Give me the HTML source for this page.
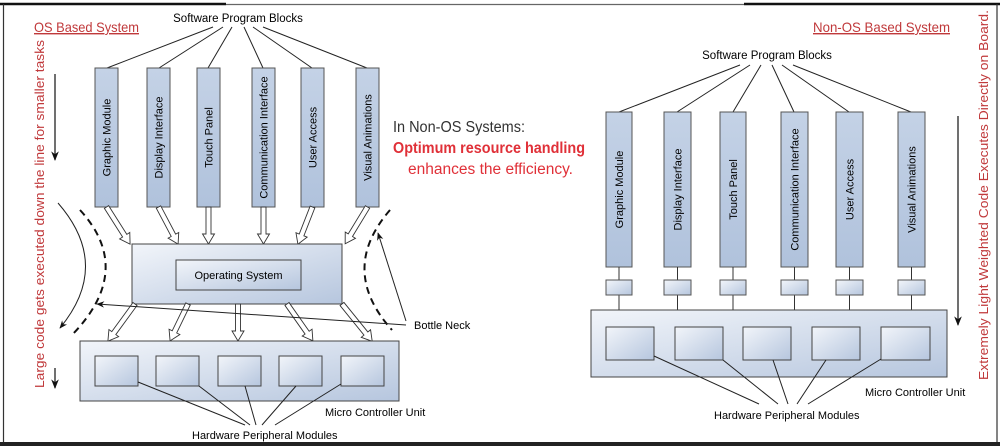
<!DOCTYPE html>
<html><head><meta charset="utf-8"><style>
html,body{margin:0;padding:0;background:#fff}
svg{display:block}
text{font-family:"Liberation Sans",sans-serif}
.c{font-family:"Liberation Sans",sans-serif}
</style></head><body>
<svg width="1000" height="446" viewBox="0 0 1000 446" xmlns="http://www.w3.org/2000/svg">
<defs>
<linearGradient id="g" x1="0" y1="0" x2="1" y2="1"><stop offset="0" stop-color="#f2f5fa"/><stop offset="1" stop-color="#b6c6de"/></linearGradient>
<linearGradient id="gv" x1="0" y1="0" x2="0" y2="1"><stop offset="0" stop-color="#c4d2e6"/><stop offset="1" stop-color="#b0c2dc"/></linearGradient>
<marker id="ah" viewBox="0 0 10 10" refX="9" refY="5" markerWidth="8" markerHeight="8" orient="auto"><path d="M0,1 L10,5 L0,9 L3,5 Z" fill="#111"/></marker>
</defs>
<line x1="0" y1="4" x2="226" y2="4" stroke="#111" stroke-width="2.5"/>
<line x1="226" y1="4.5" x2="744" y2="4.5" stroke="#666" stroke-width="1.2"/>
<line x1="744" y1="4" x2="1000" y2="4" stroke="#111" stroke-width="2.5"/>
<line x1="3.5" y1="4" x2="3.5" y2="446" stroke="#333" stroke-width="1.2"/>
<line x1="997" y1="4" x2="997" y2="446" stroke="#333" stroke-width="1.2"/>
<line x1="0" y1="444" x2="1000" y2="444" stroke="#222" stroke-width="4"/>

<text x="34" y="32" font-size="14" fill="#c0393b" text-decoration="underline" textLength="105" lengthAdjust="spacingAndGlyphs">OS Based System</text>
<text x="238" y="22" font-size="11.5" text-anchor="middle">Software Program Blocks</text>
<g stroke="#222" stroke-width="1">
<line x1="213" y1="27" x2="107" y2="68"/><line x1="223" y1="27" x2="159" y2="68"/><line x1="232" y1="27" x2="208" y2="68"/>
<line x1="244" y1="27" x2="263" y2="68"/><line x1="253" y1="27" x2="312" y2="68"/><line x1="263" y1="27" x2="367" y2="68"/>
</g>
<g fill="url(#gv)" stroke="#555" stroke-width="1">
<rect x="95" y="68" width="23" height="139"/><rect x="147" y="68" width="23" height="139"/><rect x="197" y="68" width="23" height="139"/>
<rect x="252" y="68" width="23" height="139"/><rect x="301" y="68" width="23" height="139"/><rect x="356" y="68" width="23" height="139"/>
</g>
<g font-size="11" text-anchor="middle">
<text transform="translate(110.5,137.5) rotate(-90)">Graphic Module</text>
<text transform="translate(162.5,137.5) rotate(-90)">Display Interface</text>
<text transform="translate(212.5,137.5) rotate(-90)">Touch Panel</text>
<text transform="translate(267.5,137.5) rotate(-90)">Communication Interface</text>
<text transform="translate(316.5,137.5) rotate(-90)">User Access</text>
<text transform="translate(371.5,137.5) rotate(-90)">Visual Animations</text>
</g>
<g fill="#fff" stroke="#333" stroke-width="0.9">
<path transform="translate(106.5,207) rotate(-32.4)" d="M-2.5,0 L-2.5,34 L-6,34 L0,44 L6,34 L2.5,34 L2.5,0 Z"/>
<path transform="translate(158.5,207) rotate(-27.8)" d="M-2.5,0 L-2.5,32 L-6,32 L0,42 L6,32 L2.5,32 L2.5,0 Z"/>
<path transform="translate(208.5,207)" d="M-2.5,0 L-2.5,27 L-6,27 L0,37 L6,27 L2.5,27 L2.5,0 Z"/>
<path transform="translate(263.5,207)" d="M-2.5,0 L-2.5,27 L-6,27 L0,37 L6,27 L2.5,27 L2.5,0 Z"/>
<path transform="translate(312.5,207) rotate(21.4)" d="M-2.5,0 L-2.5,30 L-6,30 L0,40 L6,30 L2.5,30 L2.5,0 Z"/>
<path transform="translate(367.5,207) rotate(31.3)" d="M-2.5,0 L-2.5,33 L-6,33 L0,43 L6,33 L2.5,33 L2.5,0 Z"/>
</g>
<rect x="132" y="244" width="210" height="60" fill="url(#g)" stroke="#444"/>
<rect x="176" y="260" width="125" height="30" fill="url(#g)" stroke="#444"/>
<text x="238.5" y="279" font-size="11" text-anchor="middle">Operating System</text>
<g fill="#fff" stroke="#333" stroke-width="0.9">
<path transform="translate(135,304) rotate(36.1)" d="M-2.5,0 L-2.5,36 L-6,36 L0,46 L6,36 L2.5,36 L2.5,0 Z"/>
<path transform="translate(188,304) rotate(25.9)" d="M-2.5,0 L-2.5,31 L-6,31 L0,41 L6,31 L2.5,31 L2.5,0 Z"/>
<path transform="translate(238,304)" d="M-2.5,0 L-2.5,27 L-6,27 L0,37 L6,27 L2.5,27 L2.5,0 Z"/>
<path transform="translate(287,304) rotate(-35.1)" d="M-2.5,0 L-2.5,35 L-6,35 L0,45 L6,35 L2.5,35 L2.5,0 Z"/>
<path transform="translate(342,304) rotate(-39)" d="M-2.5,0 L-2.5,38 L-6,38 L0,48 L6,38 L2.5,38 L2.5,0 Z"/>
</g>
<rect x="80" y="341" width="319" height="60" fill="url(#g)" stroke="#444"/>
<g fill="url(#g)" stroke="#444">
<rect x="95" y="356" width="43" height="30"/><rect x="156" y="356" width="43" height="30"/><rect x="218" y="356" width="43" height="30"/>
<rect x="279" y="356" width="43" height="30"/><rect x="341" y="356" width="43" height="30"/>
</g>
<g stroke="#222" stroke-width="1">
<line x1="138" y1="382" x2="245" y2="425"/><line x1="199" y1="386" x2="250" y2="425"/><line x1="245" y1="386" x2="256" y2="425"/>
<line x1="296" y1="386" x2="262" y2="425"/><line x1="341" y1="384" x2="275" y2="425"/>
</g>
<text x="325" y="416" font-size="11">Micro Controller Unit</text>
<text x="192" y="439" font-size="11">Hardware Peripheral Modules</text>
<text transform="translate(44,214) rotate(-90)" font-size="12.5" fill="#c0393b" text-anchor="middle" textLength="348" lengthAdjust="spacingAndGlyphs">Large code gets executed down the line for smaller tasks</text>
<line x1="55" y1="74" x2="55" y2="160" stroke="#111" stroke-width="1.2" marker-end="url(#ah)"/>
<line x1="55" y1="368" x2="55" y2="388" stroke="#111" stroke-width="1.2" marker-end="url(#ah)"/>
<path d="M58,203 Q112,265 60,328" fill="none" stroke="#222" stroke-width="1" marker-end="url(#ah)"/>
<path d="M80,210 Q135,270 72,335" fill="none" stroke="#111" stroke-width="2" stroke-dasharray="7,5"/>
<path d="M390,210 Q338,270 392,330" fill="none" stroke="#111" stroke-width="2" stroke-dasharray="7,5"/>
<line x1="406" y1="321" x2="378" y2="233" stroke="#222" stroke-width="1" marker-end="url(#ah)"/>
<line x1="406" y1="325" x2="97" y2="304" stroke="#222" stroke-width="1" marker-end="url(#ah)"/>
<text x="414" y="329" font-size="11">Bottle Neck</text>

<text x="393" y="132" font-size="15.5" fill="#333" textLength="132" lengthAdjust="spacingAndGlyphs">In Non-OS Systems:</text>
<text x="393" y="153" font-size="15.5" fill="#e03038" font-weight="bold" textLength="192" lengthAdjust="spacingAndGlyphs">Optimum resource handling</text>
<text x="408" y="174" font-size="15.5" fill="#e03038" textLength="165" lengthAdjust="spacingAndGlyphs">enhances the efficiency.</text>

<text x="813" y="32" font-size="14" fill="#c0393b" text-decoration="underline" textLength="137" lengthAdjust="spacingAndGlyphs">Non-OS Based System</text>
<text x="767" y="59" font-size="11.5" text-anchor="middle">Software Program Blocks</text>
<g stroke="#222" stroke-width="1">
<line x1="740" y1="65" x2="619" y2="112"/><line x1="750" y1="65" x2="677" y2="112"/><line x1="761" y1="65" x2="733" y2="112"/>
<line x1="772" y1="65" x2="794" y2="112"/><line x1="782" y1="65" x2="849" y2="112"/><line x1="793" y1="65" x2="911" y2="112"/>
</g>
<g fill="url(#gv)" stroke="#555" stroke-width="1">
<rect x="606" y="112" width="26" height="155"/><rect x="664" y="112" width="27" height="155"/><rect x="720" y="112" width="26" height="155"/>
<rect x="781" y="112" width="27" height="155"/><rect x="836" y="112" width="27" height="155"/><rect x="898" y="112" width="27" height="155"/>
</g>
<g font-size="11" text-anchor="middle">
<text transform="translate(623,189.5) rotate(-90)">Graphic Module</text>
<text transform="translate(681.5,189.5) rotate(-90)">Display Interface</text>
<text transform="translate(737,189.5) rotate(-90)">Touch Panel</text>
<text transform="translate(798.5,189.5) rotate(-90)">Communication Interface</text>
<text transform="translate(853.5,189.5) rotate(-90)">User Access</text>
<text transform="translate(915.5,189.5) rotate(-90)">Visual Animations</text>
</g>
<g stroke="#333" stroke-width="1">
<line x1="619" y1="267" x2="619" y2="310"/><line x1="677.5" y1="267" x2="677.5" y2="310"/><line x1="733" y1="267" x2="733" y2="310"/>
<line x1="794.5" y1="267" x2="794.5" y2="310"/><line x1="849.5" y1="267" x2="849.5" y2="310"/><line x1="911.5" y1="267" x2="911.5" y2="310"/>
</g>
<g fill="url(#g)" stroke="#555">
<rect x="606" y="280" width="26" height="15"/><rect x="664" y="280" width="27" height="15"/><rect x="720" y="280" width="26" height="15"/>
<rect x="781" y="280" width="27" height="15"/><rect x="836" y="280" width="27" height="15"/><rect x="898" y="280" width="27" height="15"/>
</g>
<rect x="591" y="310" width="356" height="67" fill="url(#g)" stroke="#444"/>
<g fill="url(#g)" stroke="#444">
<rect x="606" y="327" width="48" height="33"/><rect x="675" y="327" width="48" height="33"/><rect x="743" y="327" width="48" height="33"/>
<rect x="812" y="327" width="48" height="33"/><rect x="881" y="327" width="49" height="33"/>
</g>
<g stroke="#222" stroke-width="1">
<line x1="654" y1="356" x2="759" y2="404"/><line x1="723" y1="360" x2="778" y2="404"/><line x1="773" y1="360" x2="788" y2="404"/>
<line x1="826" y1="360" x2="797" y2="404"/><line x1="881" y1="359" x2="808" y2="404"/>
</g>
<text x="865" y="396" font-size="11">Micro Controller Unit</text>
<text x="714" y="419" font-size="11">Hardware Peripheral Modules</text>
<text transform="translate(988,195) rotate(-90)" font-size="13" fill="#c0393b" text-anchor="middle" textLength="370" lengthAdjust="spacingAndGlyphs">Extremely Light Weighted Code Executes Directly on Board.</text>
<line x1="958" y1="116" x2="958" y2="325" stroke="#111" stroke-width="1.2" marker-end="url(#ah)"/>
</svg>
</body></html>
